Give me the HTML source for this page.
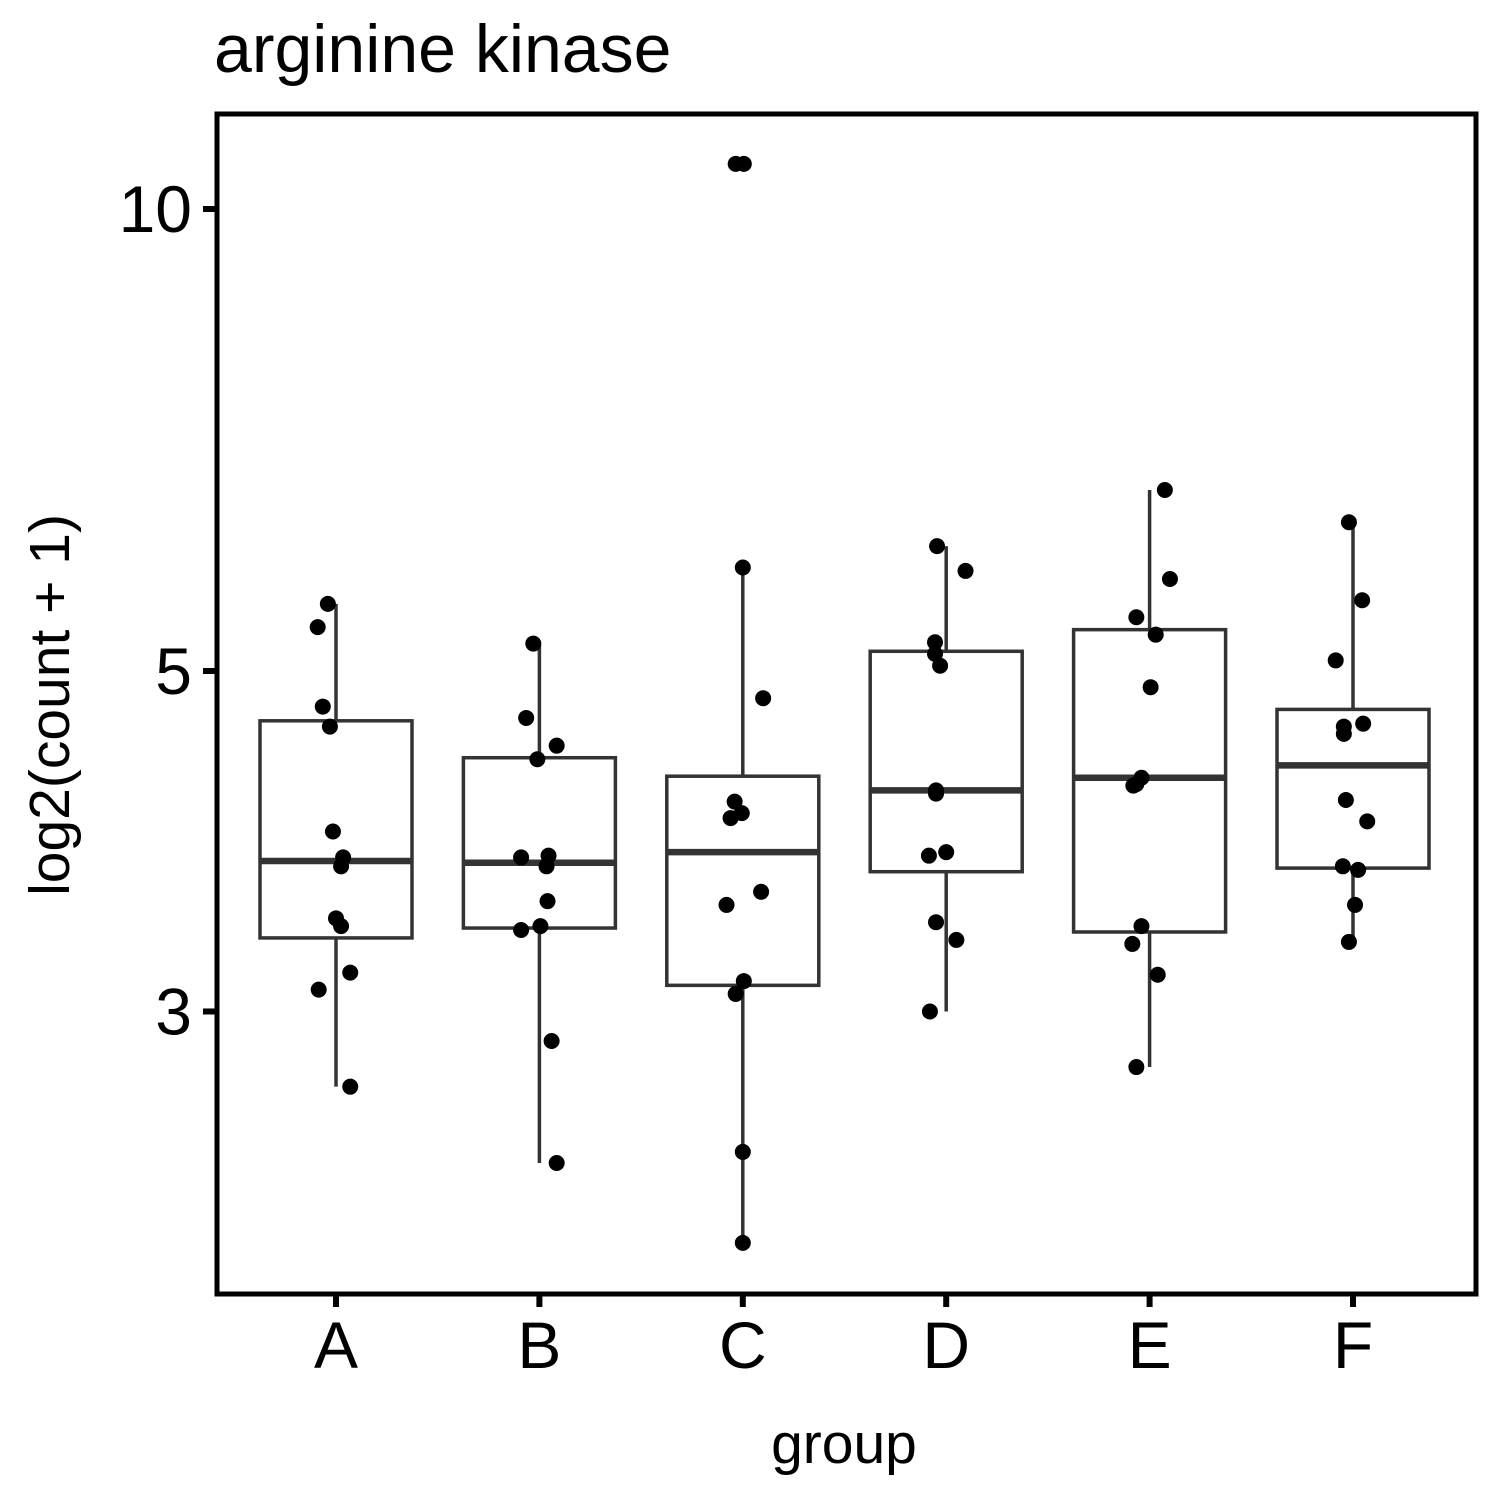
<!DOCTYPE html>
<html><head><meta charset="utf-8"><style>
html,body{margin:0;padding:0;background:#fff;}
svg text{font-family:"Liberation Sans",Arial,sans-serif;}
</style></head><body>
<svg id="chart" width="1500" height="1500" xmlns="http://www.w3.org/2000/svg">
<rect width="1500" height="1500" fill="#fff"/>
<text x="214" y="72" font-size="68">arginine kinase</text>
<g id="marks"></g>
<rect x="217" y="114" width="1259" height="1180" fill="none" stroke="#000" stroke-width="5"/>
<g id="axes"></g>
<text x="844" y="1463" font-size="57" text-anchor="middle">group</text>
<text transform="translate(69,705) rotate(-90)" font-size="57" text-anchor="middle">log2(count + 1)</text>
</svg>
<script>
const categories=["A","B","C","D","E","F"];
const q1=[3.35,3.40,3.12,3.70,3.38,3.72];
const medians=[3.76,3.75,3.81,4.18,4.26,4.34];
const q3=[4.64,4.39,4.27,5.15,5.32,4.72];
const whiskLow=[2.68,2.39,2.12,3.00,2.76,3.33];
const whiskHigh=[5.53,5.21,5.84,6.03,6.56,6.25];
const pointsA=[5.53,5.34,4.74,4.60,3.93,3.78,3.73,3.45,3.41,3.18,3.10,2.68];
const pointsB=[5.21,4.66,4.47,4.38,3.78,3.79,3.73,3.54,3.41,3.39,2.87,2.39];
const pointsC=[10.7,10.7,5.84,4.80,4.11,4.04,4.01,3.59,3.52,3.14,3.08,2.43,2.12];
const pointsD=[6.03,5.81,5.22,5.13,5.04,4.18,4.16,3.79,3.81,3.43,3.34,3.00];
const pointsE=[6.56,5.74,5.42,5.28,4.88,4.26,4.22,4.21,3.41,3.32,3.17,2.76];
const pointsF=[6.25,5.56,5.08,4.60,4.62,4.55,4.12,3.99,3.73,3.71,3.52,3.33];
const jitterA=[-0.04,-0.09,-0.065,-0.03,-0.015,0.035,0.025,0,0.025,0.07,-0.085,0.07];
const jitterB=[-0.03,-0.065,0.085,-0.01,-0.09,0.045,0.035,0.04,0.005,-0.09,0.06,0.085];
const jitterC=[-0.035,0.005,0,0.1,-0.04,-0.005,-0.06,0.09,-0.08,0.005,-0.035,0,0];
const jitterD=[-0.045,0.095,-0.055,-0.055,-0.03,-0.05,-0.05,-0.085,0,-0.05,0.05,-0.08];
const jitterE=[0.075,0.1,-0.065,0.03,0.005,-0.04,-0.065,-0.08,-0.04,-0.085,0.04,-0.065];
const jitterF=[-0.02,0.045,-0.085,-0.045,0.05,-0.045,-0.035,0.07,-0.05,0.025,0.01,-0.02];
const yTicks=[3,5,10];
const allPoints=[pointsA,pointsB,pointsC,pointsD,pointsE,pointsF];
const allJitter=[jitterA,jitterB,jitterC,jitterD,jitterE,jitterF];
const NS="http://www.w3.org/2000/svg";
function yPos(v){return 671-462*Math.log2(v/5);}
function xPos(i){return 336+203.4*i;}
const marks=document.getElementById('marks');
const axes=document.getElementById('axes');
function mk(tag,attrs,parent){const e=document.createElementNS(NS,tag);for(const k in attrs)e.setAttribute(k,attrs[k]);parent.appendChild(e);return e;}
const bw=152;
categories.forEach((c,i)=>{
  const x=xPos(i);
  const g=mk('g',{},marks);
  
  
  const wu=mk('line',{x1:x,x2:x,y1:yPos(whiskHigh[i]),y2:yPos(q3[i]),stroke:'#333','stroke-width':3.5},g);
  
  
  const wl=mk('line',{x1:x,x2:x,y1:yPos(q1[i]),y2:yPos(whiskLow[i]),stroke:'#333','stroke-width':3.5},g);
  
  
  const r=mk('rect',{x:x-bw/2,y:yPos(q3[i]),width:bw,height:yPos(q1[i])-yPos(q3[i]),fill:'#fff',stroke:'#333','stroke-width':3.5},g);
  
  
  const m=mk('line',{x1:x-bw/2,x2:x+bw/2,y1:yPos(medians[i]),y2:yPos(medians[i]),stroke:'#333','stroke-width':6.5},g);
  
  
  allPoints[i].forEach((v,j)=>{
    const p=mk('circle',{cx:x+allJitter[i][j]*203.4,cy:yPos(v),r:8,fill:'#000'},g);
    
    
  });
  const t=mk('line',{x1:x,x2:x,y1:1294,y2:1307,stroke:'#000','stroke-width':6},axes);
  
  
  const l=mk('text',{x:x,y:1368,'font-size':66,'text-anchor':'middle'},axes);
  l.textContent=c;
  
  
});
yTicks.forEach(v=>{
  const y=yPos(v);
  const t=mk('line',{x1:203,x2:217,y1:y,y2:y,stroke:'#000','stroke-width':6},axes);
  
  
  const l=mk('text',{x:192,y:y+23,'font-size':66,'text-anchor':'end'},axes);
  l.textContent=v;
  
  
});
</script>
</body></html>
